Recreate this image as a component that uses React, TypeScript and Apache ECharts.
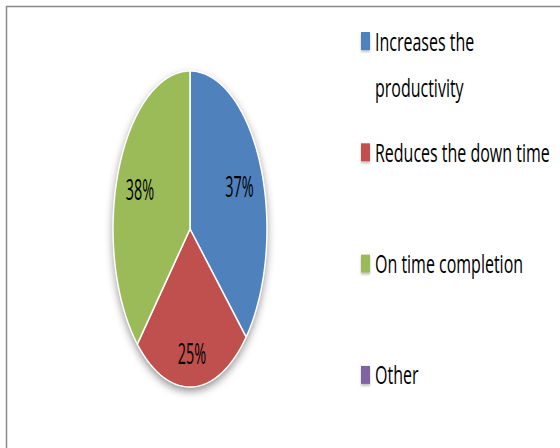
import React, { useEffect, useRef } from "react";
import * as echarts from "echarts";

// Survey answers and their shares (percent)
const categories = ["Increases the productivity", "Reduces the down time", "On time completion", "Other"];
const legendLabels = ["Increases the\nproductivity", "Reduces the down time", "On time completion", "Other"];
const shares = [37, 25, 38, 0];
const colors = ["#4F81BD", "#C0504D", "#9BBB59", "#8064A2"];

// Elliptical pie geometry
const CX = 190;
const CY = 229;
const RX = 77;
const RY = 158;
// radial position of each slice label, as a fraction of the radius
const labelRadius = [0.7, 0.78, 0.7, 0.7];

// Legend layout
const LEG_X = 361;
const LEG_CY0 = 41;
const LEG_GAP = 111.3;
const LEG_LINE = 46;

const total = shares.reduce((a, b) => a + b, 0);
const starts = shares.map((_, i) => shares.slice(0, i).reduce((a, b) => a + b, 0));

function renderSlice(params: any, api: any) {
  const i = params.dataIndex;
  const v = api.value(0) as number;
  if (!v) return null;
  const a0 = -Math.PI / 2 + (2 * Math.PI * starts[i]) / total;
  const a1 = a0 + (2 * Math.PI * v) / total;
  const steps = Math.max(8, Math.ceil((a1 - a0) / (Math.PI / 180)));
  const pts: number[][] = [[CX, CY]];
  for (let k = 0; k <= steps; k++) {
    const a = a0 + ((a1 - a0) * k) / steps;
    pts.push([CX + RX * Math.cos(a), CY + RY * Math.sin(a)]);
  }
  const am = (a0 + a1) / 2;
  const f = labelRadius[i];
  return {
    type: "group",
    children: [
      {
        type: "polygon",
        shape: { points: pts },
        style: { fill: colors[i], stroke: "#ffffff", lineWidth: 1.5, lineJoin: "round" },
      },
      {
        type: "text",
        x: CX + RX * f * Math.cos(am),
        y: CY + RY * f * Math.sin(am),
        scaleX: 0.48,
        style: {
          text: Math.round((v / total) * 100) + "%",
          font: '30px "Open Sans"',
          fill: "#000000",
          align: "center",
          verticalAlign: "middle",
        },
      },
    ],
  };
}

export default function App() {
  const ref = useRef<HTMLDivElement>(null);

  useEffect(() => {
    if (!ref.current) return;
    const chart = echarts.init(ref.current, null, { renderer: "svg" });

    const legendItems: any[] = [];
    categories.forEach((_, i) => {
      const cy = LEG_CY0 + i * LEG_GAP;
      legendItems.push({
        type: "rect",
        shape: { x: LEG_X, y: cy - 9, width: 9, height: 18 },
        style: {
          fill: colors[i],
          shadowBlur: 2,
          shadowOffsetY: 2,
          shadowColor: "rgba(0,0,0,0.25)",
        },
      });
      legendItems.push({
        type: "text",
        x: 375,
        y: cy - LEG_LINE / 2,
        scaleX: 0.64,
        style: {
          text: legendLabels[i],
          font: '25px "Open Sans"',
          fill: "#000000",
          align: "left",
          verticalAlign: "top",
          lineHeight: LEG_LINE,
        },
      });
    });

    chart.setOption({
      animation: false,
      backgroundColor: "#ffffff",
      graphic: [
        {
          type: "rect",
          shape: { x: 6.5, y: 6.5, width: 700, height: 600 },
          style: { fill: "none", stroke: "#8a8a8a", lineWidth: 1.5 },
        },
        {
          type: "ellipse",
          shape: { cx: CX, cy: CY, rx: RX, ry: RY },
          style: {
            fill: "#ffffff",
            shadowBlur: 8,
            shadowOffsetY: 4,
            shadowColor: "rgba(0,0,0,0.45)",
          },
        },
        ...legendItems,
      ],
      series: [
        {
          type: "custom",
          name: "Benefits",
          coordinateSystem: "none",
          silent: true,
          renderItem: renderSlice,
          data: shares.map((v, i) => ({ name: categories[i], value: v })),
        },
      ],
    });

    return () => chart.dispose();
  }, []);

  return (
    <div
      ref={ref}
      style={{ position: "fixed", left: 0, top: 0, width: 560, height: 448 }}
    />
  );
}
